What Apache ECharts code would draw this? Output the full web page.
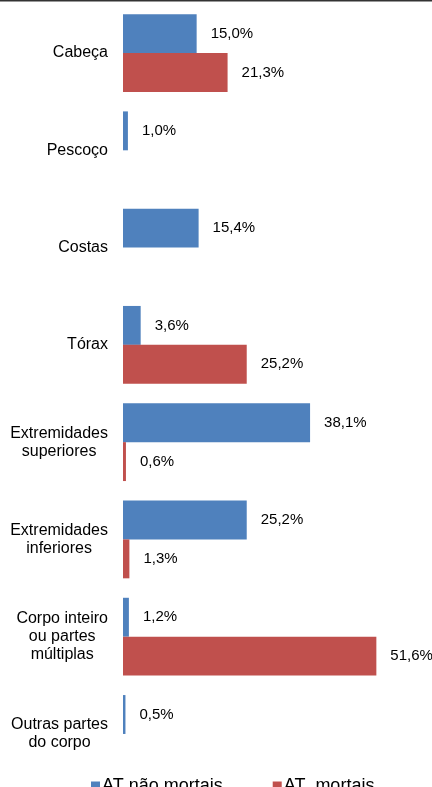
<!DOCTYPE html>
<html>
<head>
<meta charset="utf-8">
<style>
  html, body { margin: 0; padding: 0; background: #fff; }
  #chart { width: 432px; height: 787px; }
</style>
<script src="https://cdn.jsdelivr.net/npm/echarts@6/dist/echarts.min.js"></script>
</head>
<body>
<div id="chart"></div>
<script>
// Body part categories (top to bottom)
var categories = [
  'Cabeça',
  'Pescoço',
  'Costas',
  'Tórax',
  'Extremidades\nsuperiores',
  'Extremidades\ninferiores',
  'Corpo inteiro\nou partes\nmúltiplas',
  'Outras partes\ndo corpo'
];

// Percentage of accidents by body part
var naoMortais = [15.0, 1.0, 15.4, 3.6, 38.1, 25.2, 1.2, 0.5];
var mortais    = [21.3, null, null, 25.2, 0.6, 1.3, 51.6, null];

var seriesNames = ['AT não mortais', 'AT  mortais'];
var colors = ['#4F81BD', '#C0504D'];

var FONT = '"Liberation Sans", Arial, sans-serif';

function pct(p) {
  return p.value.toFixed(1).replace('.', ',') + '%';
}

var chart = echarts.init(document.getElementById('chart'), null, { renderer: 'canvas' });

var labelStyle = {
  show: true,
  position: 'right',
  distance: 14,
  fontFamily: FONT,
  fontSize: 15,
  color: '#000',
  formatter: pct
};

var lineStyle = {
  fontFamily: FONT,
  fontSize: 16,
  lineHeight: 18,
  color: '#000',
  align: 'center'
};

chart.setOption({
  animation: false,
  backgroundColor: '#fff',
  textStyle: { fontFamily: FONT },
  grid: { left: 123, top: 4.4, width: 294.6, height: 778.2 },
  xAxis: {
    type: 'value',
    min: 0,
    max: 60,
    show: false
  },
  yAxis: {
    type: 'category',
    inverse: true,
    data: categories,
    axisLine: { show: false },
    axisTick: { show: false },
    splitLine: { show: false },
    axisLabel: {
      margin: 15,
      fontFamily: FONT,
      fontSize: 16,
      lineHeight: 18,
      color: '#000',
      align: 'right',
      // lines of a multi-line label are centred on each other
      formatter: function (v) {
        return v.split('\n').map(function (s) {
          return '{c|' + s + '}';
        }).join('\n');
      },
      rich: { c: lineStyle }
    }
  },
  legend: {
    left: 86,
    top: 772,
    itemWidth: 9,
    itemHeight: 9,
    itemGap: 50,
    icon: 'rect',
    textStyle: {
      fontFamily: FONT,
      fontSize: 18,
      lineHeight: 18,
      color: '#000',
      padding: [0, 0, 0, -3]
    },
    data: seriesNames
  },
  graphic: [{
    type: 'rect',
    shape: { x: 0, y: 0, width: 432, height: 1.5 },
    style: { fill: '#333' }
  }],
  series: [
    {
      name: seriesNames[0],
      type: 'bar',
      data: naoMortais,
      barGap: '0%',
      barCategoryGap: '20%',
      itemStyle: { color: colors[0] },
      label: labelStyle
    },
    {
      name: seriesNames[1],
      type: 'bar',
      data: mortais,
      barGap: '0%',
      barCategoryGap: '20%',
      itemStyle: { color: colors[1] },
      label: labelStyle
    }
  ]
});
</script>
</body>
</html>
